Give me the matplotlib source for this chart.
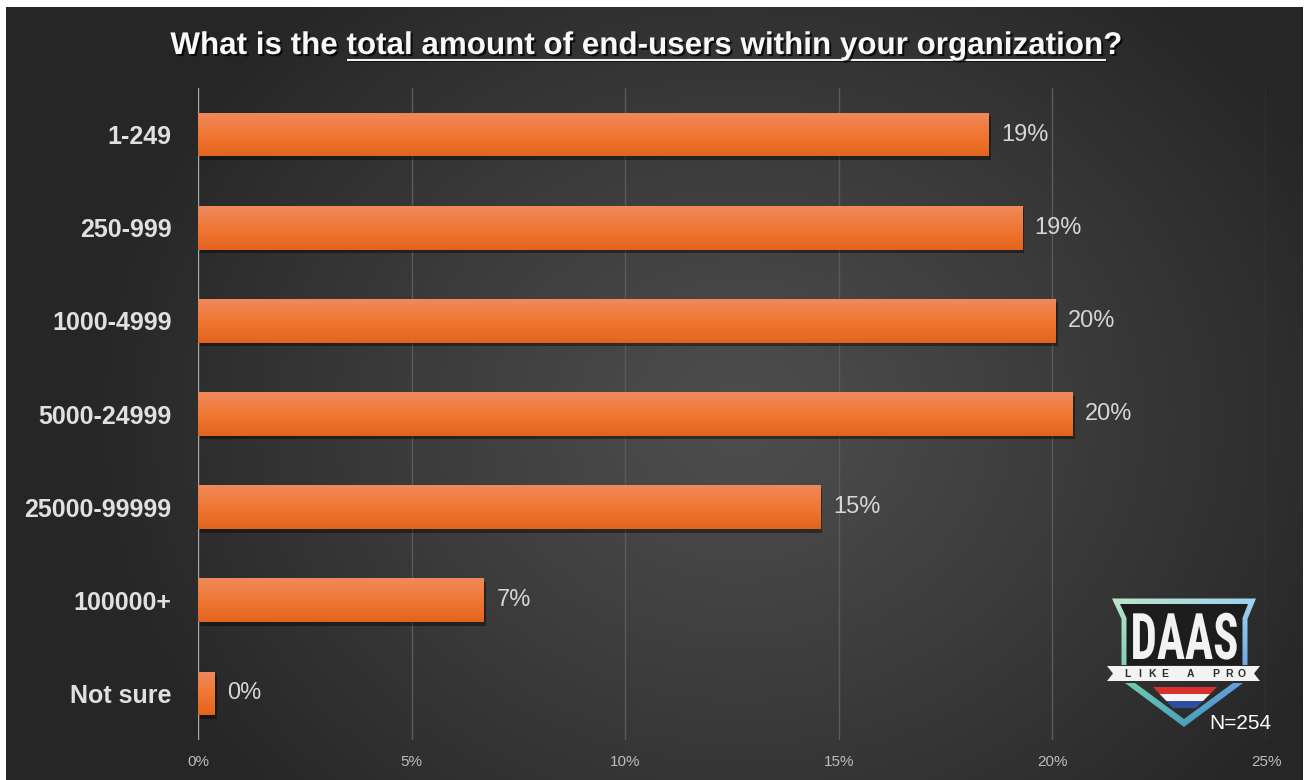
import numpy as np
import matplotlib
matplotlib.use("Agg")
import matplotlib.pyplot as plt
from matplotlib import font_manager
from matplotlib.patches import Polygon
import matplotlib.patheffects as pe
from matplotlib.transforms import Affine2D

# ---- data -------------------------------------------------------------
categories = ["1-249", "250-999", "1000-4999", "5000-24999",
              "25000-99999", "100000+", "Not sure"]
respondents = [47, 49, 51, 52, 37, 17, 1]
sample_size = 254
tick_values = [0, 5, 10, 15, 20, 25]
title_lead = "What is the "
title_focus = "total amount of end-users within your organization"
title_tail = "?"
brand_word = "DAAS"
brand_tagline = "LIKE A PRO"

shares = [100 * n / sample_size for n in respondents]

# ---- fonts ------------------------------------------------------------
installed = {f.name for f in font_manager.fontManager.ttflist}


def pick(*names):
    for n in names:
        if n in installed:
            return n
    return "DejaVu Sans"


SANS = pick("Liberation Sans", "Arimo", "DejaVu Sans")
NARROW = pick("Liberation Sans Narrow", "Roboto Condensed", "Liberation Sans")
plt.rcParams["font.family"] = [SANS, "DejaVu Sans"]


class Stretch(pe.AbstractPathEffect):
    """Scale glyph outlines about their baseline origin."""

    def __init__(self, sx=1.0, sy=1.0):
        super().__init__()
        self.sx, self.sy = sx, sy

    def draw_path(self, renderer, gc, tpath, affine, rgbFace=None):
        renderer.draw_path(gc, tpath, Affine2D().scale(self.sx, self.sy) + affine, rgbFace)


W, H = 1309, 780
fig = plt.figure(figsize=(W / 100, H / 100), dpi=100, facecolor="white")

# ---- dark radial backdrop ---------------------------------------------
x0p, x1p, y0p = 6, 1303, 7
bg = fig.add_axes([x0p / W, 0, (x1p - x0p) / W, (H - y0p) / H])
yy, xx = np.mgrid[y0p:H, x0p:x1p] + 0.5
d = np.sqrt(((xx - 740) / 660) ** 2 + ((yy - 420) / 560) ** 2)
v = 0.305 - 0.155 * np.clip(d, 0, 1) ** 1.1
bg.imshow(np.dstack([v, v, v]), aspect="auto", interpolation="bilinear")
bg.axis("off")

# ---- bar chart --------------------------------------------------------
ax = fig.add_axes([198 / W, 1 - 740 / H, (1266 - 198) / W, (740 - 88) / H])
ax.patch.set_alpha(0)
ypos = np.arange(len(categories))
bars = ax.barh(ypos, shares, height=0.47, color="#ee7430", zorder=3)

stops = np.array([[0.94, 0.54, 0.36], [0.94, 0.46, 0.19], [0.89, 0.39, 0.12]])
t = np.linspace(0, 1, 64)
grad = np.empty((64, 1, 3))
for c in range(3):
    grad[:, 0, c] = np.interp(t, [0, 0.55, 1], stops[:, c])

for b in bars:
    b.set_path_effects([pe.SimplePatchShadow(offset=(1.5, -2.5), shadow_rgbFace="black", alpha=0.4),
                        pe.Normal()])
    x_l, y_t, w_b, h_b = b.get_x(), b.get_y(), b.get_width(), b.get_height()
    im = ax.imshow(grad, extent=(x_l, x_l + w_b, y_t + h_b, y_t), origin="upper",
                   aspect="auto", zorder=4, interpolation="bilinear")
    im.set_clip_path(b)

for b, s in zip(bars, shares):
    ax.annotate(f"{s:.0f}%", xy=(b.get_width(), b.get_y() + b.get_height() / 2),
                xytext=(9, 0), textcoords="offset points", ha="left", va="center",
                fontsize=17, color="#d6d6d6", zorder=5)

ax.set_xlim(0, 25)
ax.set_ylim(len(categories) - 0.5, -0.5)
ax.set_xticks(tick_values)
ax.set_xticklabels([f"{v}%" for v in tick_values])
ax.set_yticks(ypos)
ax.set_yticklabels(categories)
ax.tick_params(axis="x", length=0, pad=11, labelsize=11, labelcolor="#bdbdbd")
ax.tick_params(axis="y", length=0, pad=19, labelsize=18, labelcolor="#e0e0e0")
for lbl in ax.get_yticklabels():
    lbl.set_fontweight("bold")
ax.grid(axis="x", color="#5a5a5a", lw=1.0)
ax.grid(axis="y", visible=False)
ax.set_axisbelow(True)
for s in ax.spines.values():
    s.set_visible(False)
ax.axvline(0, color="#a8a8a8", lw=1.6, zorder=2)

# ---- overlay in pixel coordinates: title, logo, sample size ------------
ov = fig.add_axes([0, 0, 1, 1])
ov.patch.set_alpha(0)
ov.axis("off")


def reset_ov():
    ov.set_xlim(0, W)
    ov.set_ylim(H, 0)


reset_ov()

shadow = [pe.withSimplePatchShadow(offset=(1.5, -1.5), shadow_rgbFace="black", alpha=0.75)]
title_kw = dict(fontsize=20, fontweight="bold", family=[SANS, "DejaVu Sans"], color="#f8f8f8")
renderer = fig.canvas.get_renderer()


def width_of(s, **kw):
    tmp = ov.text(0, 0, s, **kw)
    w = tmp.get_window_extent(renderer).width
    tmp.remove()
    return w


full_title = title_lead + title_focus + title_tail
fs = 20 * 951 / width_of(full_title, **title_kw)
title_kw["fontsize"] = fs
tw = width_of(full_title, **title_kw)
title_left = 647.5 - tw / 2
ov.text(647.5, 54, full_title, ha="center", va="baseline", path_effects=shadow, **title_kw)
lead_w = width_of(title_lead.strip(), **title_kw)
space_w = width_of("a a", **title_kw) - width_of("aa", **title_kw)
focus_end = width_of(title_lead + title_focus, **title_kw)
ov.plot([title_left + lead_w + space_w, title_left + focus_end], [59.5, 59.5],
        color="#f0f0f0", lw=1.5, solid_capstyle="butt",
        path_effects=[pe.SimpleLineShadow(offset=(1.2, -1.2), shadow_color="black", alpha=0.7),
                      pe.Normal()])

# logo: gradient rim
TL, TR = np.array([0.76, 0.90, 0.78]), np.array([0.62, 0.84, 0.95])
BL, BR = np.array([0.30, 0.78, 0.58]), np.array([0.24, 0.47, 0.88])
u = np.linspace(0, 1, 80)[None, :, None]
w = np.linspace(0, 1, 80)[:, None, None]
rim = (1 - w) * ((1 - u) * TL + u * TR) + w * ((1 - u) * BL + u * BR)
box = (1104, 1262, 730, 596)

shield_outer = Polygon([(1112, 598.5), (1256, 598.5), (1247.5, 619), (1247.5, 665),
                        (1121.5, 665), (1121.5, 619)], closed=True, fc="none", ec="none")
chevron = Polygon([(1125, 683), (1135, 683), (1184, 719), (1233, 683),
                   (1243, 683), (1184, 727)], closed=True, fc="none", ec="none")
for shape in (shield_outer, chevron):
    ov.add_patch(shape)
    img = ov.imshow(rim, extent=box, origin="upper", aspect="auto",
                    interpolation="bilinear", zorder=2)
    img.set_clip_path(shape)
reset_ov()

ov.add_patch(Polygon([(1120, 604), (1248, 604), (1242.5, 618), (1242.5, 665),
                      (1126.5, 665), (1126.5, 618)], closed=True, fc="#1d1d1d", ec="none", zorder=3))

# flag stripes inside the chevron
flag_clip = Polygon([(1153, 687), (1217, 687), (1196, 708), (1173, 708)],
                    closed=True, fc="none", ec="none")
ov.add_patch(flag_clip)
for (ya, yb), col in zip([(687, 693.5), (693.5, 700.5), (700.5, 708)],
                         ["#d9312b", "#f4f4f4", "#2d4f9e"]):
    stripe = ov.fill_between([1150, 1220], [ya, ya], [yb, yb], color=col, lw=0, zorder=3)
    stripe.set_clip_path(flag_clip)

# banner
ov.add_patch(Polygon([(1107, 666), (1260, 666), (1254, 673.5), (1260, 681),
                      (1107, 681), (1113, 673.5)], closed=True, fc="#f3f3f3", ec="none", zorder=4))
for i, ch in enumerate(brand_tagline):
    ov.text(1127 + i * 12.7, 674, ch, ha="center", va="center", fontsize=7.5,
            fontweight="bold", color="#2b2b2b", zorder=5)

# brand word, stretched vertically
word_kw = dict(fontsize=30, fontweight="bold", family=[NARROW, "DejaVu Sans"], color="#f2f2f2")
word_fs = 30 * 108 / width_of(brand_word, **word_kw)
word_kw["fontsize"] = word_fs
cap_px = 0.716 * word_fs * 100 / 72
ov.text(1184.5, 659, brand_word, ha="center", va="baseline", zorder=5,
        path_effects=[Stretch(1.0, 46 / cap_px)], **word_kw)

ov.text(1209, 729, f"N={sample_size}", ha="left", va="baseline", fontsize=15,
        color="white", zorder=5)
reset_ov()

fig.savefig("out.png", dpi=100, facecolor=fig.get_facecolor())
